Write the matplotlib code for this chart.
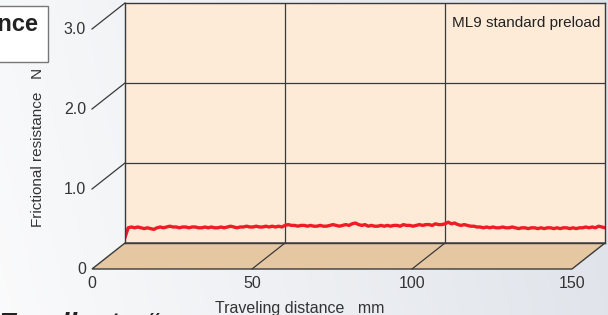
import numpy as np
import matplotlib.pyplot as plt
from matplotlib.patches import Polygon, Rectangle

plt.rcParams['font.family'] = ['Liberation Sans', 'DejaVu Sans']

# データ（奥の壁面の座標系で読み取った値）
distance = list(range(0, 151))
resistance = [
    0.07, 0.19, 0.20, 0.19, 0.20, 0.19, 0.18, 0.19, 0.18, 0.17,
    0.19, 0.20, 0.19, 0.20, 0.21, 0.20, 0.20, 0.19, 0.20, 0.20,
    0.19, 0.20, 0.20, 0.19, 0.19, 0.20, 0.19, 0.20, 0.19, 0.19,
    0.20, 0.19, 0.20, 0.21, 0.20, 0.19, 0.20, 0.20, 0.21, 0.20,
    0.20, 0.21, 0.20, 0.20, 0.21, 0.20, 0.21, 0.20, 0.21, 0.20,
    0.22, 0.23, 0.22, 0.22, 0.21, 0.22, 0.22, 0.21, 0.22, 0.21,
    0.21, 0.22, 0.21, 0.21, 0.22, 0.23, 0.22, 0.21, 0.22, 0.23,
    0.22, 0.24, 0.25, 0.23, 0.22, 0.23, 0.21, 0.22, 0.21, 0.21,
    0.22, 0.21, 0.22, 0.21, 0.22, 0.22, 0.21, 0.23, 0.22, 0.22,
    0.21, 0.22, 0.23, 0.22, 0.23, 0.23, 0.22, 0.24, 0.23, 0.23,
    0.24, 0.26, 0.24, 0.25, 0.23, 0.22, 0.23, 0.22, 0.21, 0.21,
    0.20, 0.20, 0.19, 0.20, 0.19, 0.20, 0.19, 0.19, 0.20, 0.19,
    0.19, 0.20, 0.19, 0.18, 0.19, 0.19, 0.18, 0.19, 0.19, 0.18,
    0.19, 0.18, 0.19, 0.19, 0.18, 0.19, 0.18, 0.19, 0.19, 0.18,
    0.19, 0.18, 0.19, 0.19, 0.20, 0.19, 0.20, 0.19, 0.21, 0.20,
    0.19,
]
x_ticks = [0, 50, 100, 150]
x_labels = ['0', '50', '100', '150']
y_ticks = [0, 1, 2, 3]
y_labels = ['0', '1.0', '2.0', '3.0']

W, H = 608, 315
fig = plt.figure(figsize=(W / 100, H / 100), dpi=100)

# 背景のグラデーション
bg = fig.add_axes([0, 0, 1, 1], zorder=-10)
gx = np.linspace(0, 1, 200)
gy = np.linspace(0, 1, 100)
GX, GY = np.meshgrid(gx, gy)
c0 = np.array([0.980, 0.982, 0.985])
c1 = np.array([0.865, 0.882, 0.910])
t = np.clip(GX * 0.85 + (1 - GY) * 0.1, 0, 1)[..., None]
bg.imshow(c0 * (1 - t) + c1 * t, aspect='auto', extent=[0, 1, 0, 1])
bg.axis('off')

# 奥の壁面
wall_l, wall_r, wall_b, wall_t = 125, 605, 243, 3
ax = fig.add_axes([wall_l / W, (H - wall_b) / H, (wall_r - wall_l) / W, (wall_b - wall_t) / H])
ax.set_xlim(0, 150)
ax.set_ylim(0, 3)
ax.set_facecolor('#fdebd7')
for s in ax.spines.values():
    s.set_color('#3a3a3a')
    s.set_linewidth(1.0)
ax.set_xticks([])
ax.set_yticks([])
for yv in [1, 2]:
    ax.axhline(yv, color='#3a3a3a', lw=0.9)
for xv in [50, 100]:
    ax.axvline(xv, color='#3a3a3a', lw=0.9)

ax.plot(distance, resistance, color='#ee1c25', lw=2.4, solid_joinstyle='round')

# 手前の床（ピクセルのずれをデータ単位に変換）
px_x = (wall_r - wall_l) / 150
px_y = (wall_b - wall_t) / 3
dx = -33 / px_x
dy = -26 / px_y
floor = Polygon([(0, 0), (150, 0), (150 + dx, dy), (dx, dy)], closed=True,
                facecolor='#e5c8a2', edgecolor='#3a3a3a', lw=1.0, clip_on=False, zorder=0)
ax.add_patch(floor)
for xv in x_ticks[1:-1]:
    ax.plot([xv, xv + dx], [0, dy], color='#3a3a3a', lw=0.9, clip_on=False)
for yv in y_ticks[1:]:
    ax.plot([0, dx], [yv, yv + dy], color='#3a3a3a', lw=0.9, clip_on=False)

# 目盛りラベル
for yv, lab in zip(y_ticks, y_labels):
    ax.text(dx - 6 / px_x, yv + dy, lab, ha='right', va='center', fontsize=11.5, color='#333333')
for xv, lab in zip(x_ticks, x_labels):
    ax.text(xv + dx, dy - 14 / px_y, lab, ha='center', va='center', fontsize=11.5, color='#333333')

fig.text(300 / W, 1 - 308 / H, 'Traveling distance   mm', ha='center', va='center',
         fontsize=11.5, color='#333333')
fig.text(38 / W, 1 - 147 / H, 'Frictional resistance   N', rotation=90, ha='center',
         va='center', fontsize=11, color='#333333')
ax.text((452 - wall_l) / px_x, 3 - 20 / px_y, 'ML9 standard preload', ha='left', va='center',
        fontsize=11, color='#222222')

# 左上のタイトル枠（切れている）
fig.patches.append(Rectangle((-10 / W, 1 - 62 / H), 58 / W, 56 / H, transform=fig.transFigure,
                             facecolor='white', edgecolor='#777777', lw=1.0))
fig.text(38 / W, 1 - 31 / H, 'Frictional resistance', ha='right', va='baseline',
         fontsize=17, fontweight='bold', color='#222222')

# 下部の見出し（切れている）
fig.text(-2 / W, 1 - 312 / H, 'Excellent', ha='left', va='top',
         fontsize=20, fontweight='bold', style='italic', color='#222222')
fig.text(145 / W, 1 - 312 / H, '“', ha='left', va='top',
         fontsize=20, fontweight='bold', style='italic', color='#222222')

fig.savefig('out.png', dpi=100)
